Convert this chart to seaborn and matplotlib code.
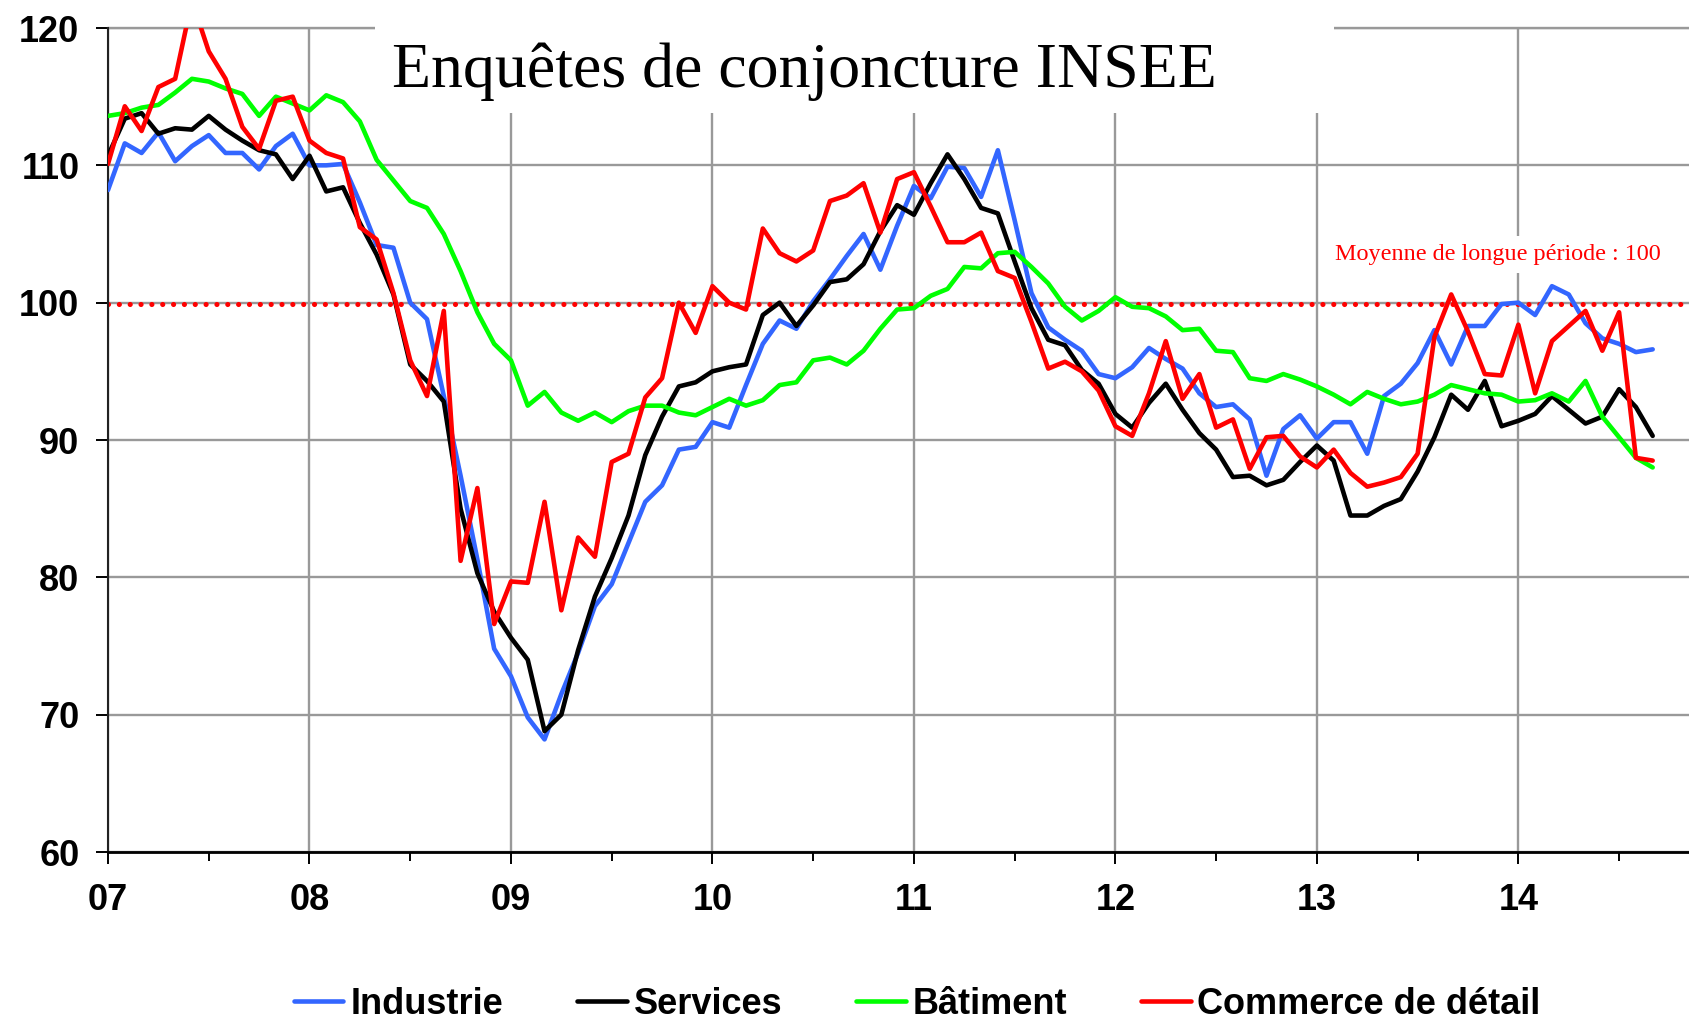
import numpy as np
import pandas as pd
import matplotlib
matplotlib.use("Agg")
import matplotlib.pyplot as plt
import seaborn as sns
from matplotlib.patches import Rectangle

# Indicateurs synthétiques du climat des affaires, mensuels, janv. 2007 -> sept. 2014
mois = np.arange(93)

industrie = [
    108.2, 111.6, 110.9, 112.4, 110.3, 111.4, 112.2, 110.9, 110.9, 109.7, 111.4, 112.3,
    110.0, 110.0, 110.1, 107.3, 104.2, 104.0, 100.0, 98.8, 93.2, 87.4, 81.3, 74.8,
    72.8, 69.8, 68.2, 71.5, 74.5, 77.9, 79.5, 82.5, 85.5, 86.7, 89.3, 89.5,
    91.3, 90.9, 94.0, 97.0, 98.7, 98.1, 100.1, 101.7, 103.4, 105.0, 102.4, 105.6,
    108.5, 107.6, 109.9, 109.8, 107.7, 111.1, 106.0, 100.7, 98.2, 97.3, 96.5, 94.8,
    94.5, 95.3, 96.7, 95.9, 95.2, 93.4, 92.4, 92.6, 91.5, 87.4, 90.8, 91.8,
    90.1, 91.3, 91.3, 89.0, 93.2, 94.1, 95.6, 98.0, 95.5, 98.3, 98.3, 99.9,
    100.0, 99.1, 101.2, 100.6, 98.5, 97.4, 97.0, 96.4, 96.6]

services = [
    110.7, 113.4, 113.8, 112.3, 112.7, 112.6, 113.6, 112.6, 111.8, 111.1, 110.8, 109.0,
    110.7, 108.1, 108.4, 105.8, 103.5, 100.6, 95.5, 94.3, 92.8, 85.0, 80.3, 77.5,
    75.6, 74.0, 68.8, 70.0, 74.7, 78.6, 81.4, 84.5, 88.9, 91.7, 93.9, 94.2,
    95.0, 95.3, 95.5, 99.1, 100.0, 98.3, 99.8, 101.5, 101.7, 102.8, 105.2, 107.1,
    106.4, 108.7, 110.8, 109.0, 106.9, 106.5, 103.0, 99.6, 97.3, 96.9, 95.1, 94.1,
    91.9, 90.9, 92.7, 94.1, 92.2, 90.5, 89.3, 87.3, 87.4, 86.7, 87.1, 88.4,
    89.6, 88.5, 84.5, 84.5, 85.2, 85.7, 87.7, 90.2, 93.3, 92.2, 94.3, 91.0,
    91.4, 91.9, 93.2, 92.2, 91.2, 91.7, 93.7, 92.4, 90.3]

batiment = [
    113.6, 113.8, 114.2, 114.4, 115.3, 116.3, 116.1, 115.6, 115.2, 113.6, 115.0, 114.5,
    114.0, 115.1, 114.6, 113.2, 110.4, 108.9, 107.4, 106.9, 105.0, 102.3, 99.3, 97.0,
    95.8, 92.5, 93.5, 92.0, 91.4, 92.0, 91.3, 92.1, 92.5, 92.5, 92.0, 91.8,
    92.4, 93.0, 92.5, 92.9, 94.0, 94.2, 95.8, 96.0, 95.5, 96.5, 98.1, 99.5,
    99.6, 100.5, 101.0, 102.6, 102.5, 103.6, 103.7, 102.6, 101.4, 99.7, 98.7, 99.4,
    100.4, 99.7, 99.6, 99.0, 98.0, 98.1, 96.5, 96.4, 94.5, 94.3, 94.8, 94.4,
    93.9, 93.3, 92.6, 93.5, 93.0, 92.6, 92.8, 93.3, 94.0, 93.7, 93.4, 93.3,
    92.8, 92.9, 93.4, 92.8, 94.3, 91.7, 90.2, 88.7, 88.0]

commerce = [
    110.1, 114.3, 112.5, 115.7, 116.3, 122.0, 118.3, 116.3, 112.8, 111.2, 114.7, 115.0,
    111.8, 110.9, 110.5, 105.5, 104.6, 100.7, 95.8, 93.2, 99.4, 81.2, 86.5, 76.6,
    79.7, 79.6, 85.5, 77.6, 82.9, 81.5, 88.4, 89.0, 93.1, 94.5, 100.0, 97.8,
    101.2, 100.0, 99.5, 105.4, 103.6, 103.0, 103.8, 107.4, 107.8, 108.7, 105.1, 109.0,
    109.5, 107.0, 104.4, 104.4, 105.1, 102.3, 101.8, 98.6, 95.2, 95.7, 95.0, 93.6,
    91.0, 90.3, 93.4, 97.2, 93.0, 94.8, 90.9, 91.5, 87.9, 90.2, 90.3, 88.8,
    88.0, 89.3, 87.6, 86.6, 86.9, 87.3, 89.0, 97.5, 100.6, 97.9, 94.8, 94.7,
    98.4, 93.4, 97.2, 98.3, 99.4, 96.5, 99.3, 88.7, 88.5]

series = ["Industrie", "Services", "Bâtiment", "Commerce de détail"]
couleurs = {"Industrie": "#3366FF", "Services": "#000000",
            "Bâtiment": "#00FF00", "Commerce de détail": "#FF0000"}
annees = ["07", "08", "09", "10", "11", "12", "13", "14"]

df = pd.DataFrame({
    "mois": np.tile(mois, 4),
    "valeur": industrie + services + batiment + commerce,
    "serie": np.repeat(series, len(mois)),
})

sns.set_theme(style="white")
plt.rcParams["font.family"] = ["Liberation Sans", "DejaVu Sans"]
plt.rcParams["text.color"] = "black"
plt.rcParams["xtick.color"] = "black"
plt.rcParams["ytick.color"] = "black"

fig = plt.figure(figsize=(16.9, 10.21), dpi=100)
ax = fig.add_axes([108 / 1690, 1 - 852 / 1021, 1 - 108 / 1690, (852 - 28) / 1021])

sns.lineplot(data=df, x="mois", y="valeur", hue="serie", hue_order=series,
             palette=couleurs, linewidth=3.3, ax=ax, zorder=3,
             solid_joinstyle="round", solid_capstyle="round")

ax.set_xlim(0, (1690 - 108) / 16.79)
ax.set_ylim(60, 120)
ax.set_xlabel("")
ax.set_ylabel("")

# axes / grille
ax.set_xticks(np.arange(0, 85, 12))
ax.set_xticklabels(annees, fontweight="bold", fontsize=26, color="black")
ax.set_xticks(np.arange(6, 93, 12), minor=True)
ax.set_yticks(np.arange(60, 121, 10))
ax.set_yticklabels([str(v) for v in range(60, 121, 10)], fontweight="bold",
                   fontsize=26, color="black")
ax.grid(True, which="major", color="#999999", linewidth=1.7)
ax.set_axisbelow(True)
# ligne du haut (120) non rognée
ax.axhline(120, color="#999999", linewidth=1.7, clip_on=False, zorder=0.6)
ax.tick_params(axis="both", which="both", bottom=True, left=True, direction="out",
               color="black", width=1.4)
ax.tick_params(axis="x", which="major", length=8.6, pad=14)
ax.tick_params(axis="x", which="minor", length=6.5)
ax.tick_params(axis="y", which="major", length=8.6, pad=12)
for s in ["top", "right"]:
    ax.spines[s].set_visible(False)
ax.spines["left"].set_color("#222222")
ax.spines["left"].set_linewidth(1.5)
ax.spines["bottom"].set_color("black")
ax.spines["bottom"].set_linewidth(2)

# moyenne de longue période
ax.axhline(99.9, color="red", linewidth=3.7, linestyle=(0, (0.01, 2.1)),
           dash_capstyle="round", zorder=2)
ax.text(82.8, 103.1, "Moyenne de longue période : 100", family="Liberation Serif",
        fontsize=17.4, color="red", ha="center", va="baseline", zorder=4,
        bbox=dict(facecolor="white", edgecolor="none", pad=6))

# titre dans un cadre blanc
ax.add_patch(Rectangle((15.9, 113.8), 73.0 - 15.9, 8, facecolor="white",
                       edgecolor="none", zorder=1.5, clip_on=False))
ax.text(41.5, 115.7, "Enquêtes de conjoncture INSEE", family="Liberation Serif",
        fontsize=46, color="black", ha="center", va="baseline", zorder=4)

handles, labels = ax.get_legend_handles_labels()
ax.get_legend().remove()
fig.legend(handles, labels, loc="center left", bbox_to_anchor=(294 / 1690, 1 - 1004 / 1021),
           ncol=4, frameon=False, prop={"weight": "bold", "size": 26},
           handlelength=1.37, handletextpad=0.19, columnspacing=2.05,
           borderpad=0, borderaxespad=0, labelcolor="black")

fig.savefig("out.png", dpi=100)
